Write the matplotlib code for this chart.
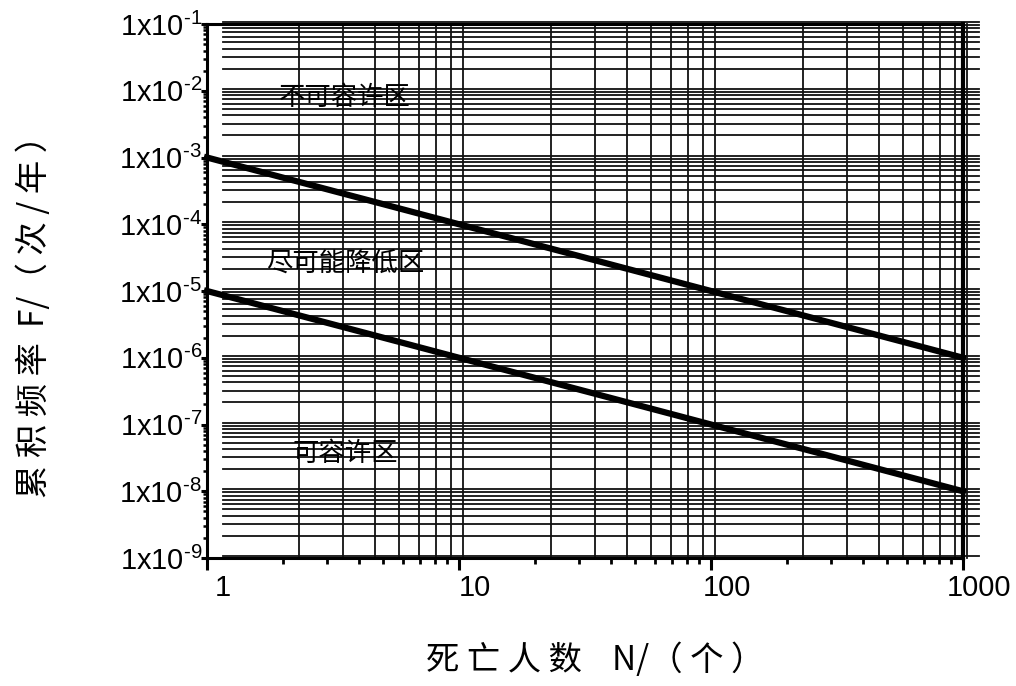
import numpy as np
import matplotlib
matplotlib.use("Agg")
import matplotlib.pyplot as plt
from matplotlib.transforms import ScaledTranslation

# ---- data ----
deaths_N = [1, 1000]
upper_limit_F = [1e-3, 1e-6]
lower_limit_F = [1e-5, 1e-8]
x_tick_values = [1, 10, 100, 1000]
x_tick_labels = ["1", "10", "100", "1000"]
y_tick_values = [1e-9, 1e-8, 1e-7, 1e-6, 1e-5, 1e-4, 1e-3, 1e-2, 1e-1]
y_tick_labels = [r"$\mathregular{1x10^{\text{-%d}}}$" % k for k in [9, 8, 7, 6, 5, 4, 3, 2, 1]]
region_labels = ["不可容许区", "尽可能降低区", "可容许区"]
x_label = "死 亡 人 数    N/（ 个 ）"
y_label = "累 积 频 率  F/（ 次 / 年 ）"

CJK = ["Noto Sans CJK SC", "DejaVu Sans"]
LAT = ["Liberation Sans", "DejaVu Sans"]
plt.rcParams["font.family"] = LAT
plt.rcParams["mathtext.fontset"] = "custom"
plt.rcParams["mathtext.rm"] = "Liberation Sans"

W, H, DPI = 1016, 686, 100
fig = plt.figure(figsize=(W / DPI, H / DPI), dpi=DPI)
ax = fig.add_axes([207 / W, 1 - 558 / H, (963 - 207) / W, (558 - 24) / H])
ax.set_xscale("log")
ax.set_yscale("log")
ax.set_xlim(1, 1000)
ax.set_ylim(1e-9, 1e-1)

# shifted grid (as in the original figure)
off_grid_v = ScaledTranslation(16 / DPI, 0, fig.dpi_scale_trans)
off_grid_h = ScaledTranslation(16 / DPI, 2 / DPI, fig.dpi_scale_trans)
gkw = dict(color="#111111", lw=1.3, clip_on=False, zorder=1)
vx = [m * 10 ** d for d in range(0, 3) for m in range(2, 10)]
for v in vx:
    ax.plot([v, v], [0, 1], transform=ax.get_xaxis_transform() + off_grid_v, **gkw)
hy = [m * 10.0 ** d for d in range(-9, -1) for m in range(1, 10)] + [1e-1]
for v in hy:
    ax.plot([1, 1000], [v, v], transform=ax.transData + off_grid_h, **gkw)

# limit lines
for F in (upper_limit_F, lower_limit_F):
    ax.plot(deaths_N, F, color="black", lw=4.5, solid_capstyle="projecting",
            clip_on=False, zorder=5)

# spines / ticks
for s in ["left", "bottom", "top"]:
    ax.spines[s].set_linewidth(2.2)
ax.spines["right"].set_linewidth(3.0)
for s in ax.spines.values():
    s.set_zorder(6)

ax.set_xticks(x_tick_values)
ax.set_xticklabels([])
ax.tick_params(axis="x", which="major", direction="out", length=8.5, width=2.2)
ax.tick_params(axis="x", which="minor", direction="out", length=4, width=2.0)
ax.set_yticks(y_tick_values)
ax.set_yticklabels(y_tick_labels, fontsize=21)
ax.yaxis.set_minor_locator(matplotlib.ticker.LogLocator(base=10, subs=np.arange(2, 10), numticks=100))
ax.tick_params(axis="y", which="major", direction="out", length=4.5, width=2.2, pad=-1)
ax.tick_params(axis="y", which="minor", direction="out", length=3, width=1.8)
ax.yaxis.set_minor_formatter(matplotlib.ticker.NullFormatter())
ax.xaxis.set_minor_formatter(matplotlib.ticker.NullFormatter())

# x tick labels (shifted like the original)
off_lab = ScaledTranslation(16 / DPI, -30 / DPI, fig.dpi_scale_trans)
for v, t in zip(x_tick_values, x_tick_labels):
    ax.text(v, 0, t, transform=ax.get_xaxis_transform() + off_lab,
            ha="center", va="center", fontsize=21, family=LAT)

# region labels
ax.text(0.1825, 0.863, region_labels[0], transform=ax.transAxes, ha="center",
        va="center", fontsize=19, family=CJK, zorder=7)
ax.text(0.1825, 0.5524, region_labels[1], transform=ax.transAxes, ha="center",
        va="center", fontsize=19, family=CJK, zorder=7)
ax.text(0.1825, 0.1966, region_labels[2], transform=ax.transAxes, ha="center",
        va="center", fontsize=19, family=CJK, zorder=7)

# axis titles
fig.text(595 / W, 1 - 660 / H, x_label, ha="center", va="center", fontsize=24, family=CJK)
fig.text(35 / W, 1 - 308 / H, y_label, ha="center", va="center", fontsize=24,
         family=CJK, rotation=90)

fig.savefig("out.png", dpi=DPI)
